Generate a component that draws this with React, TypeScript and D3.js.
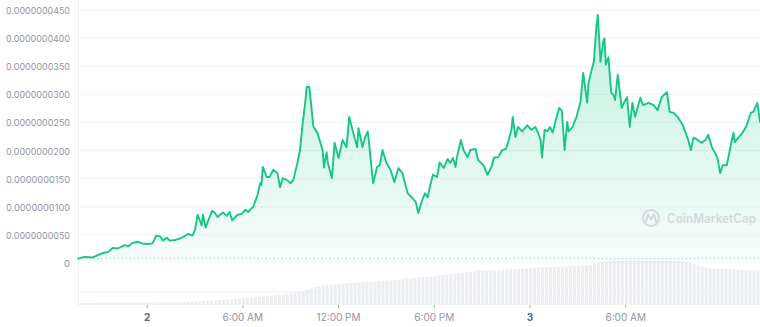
import React from "react";
import * as d3 from "d3";

// Time base: 5-minute steps from 1st 19:40 UTC
const START_UTC = Date.UTC(2023, 5, 1, 19, 40);
const STEP_MIN = 5;
const TOTAL_STEPS = 513;

// price sample positions (in 5-minute steps from start)
const PRICE_STEPS = [
  0, 5, 11, 15, 19, 23, 26, 30, 35, 38,
  41, 45, 48, 52, 56, 59, 62, 64, 67, 69,
  73, 78, 83, 86, 88, 90, 93, 94, 96, 98,
  101, 103, 105, 109, 112, 114, 116, 120, 123, 126,
  128, 132, 135, 137, 138, 139, 142, 144, 147, 150,
  152, 154, 157, 160, 162, 165, 167, 169, 171, 172,
  174, 176, 177, 180, 184, 185, 187, 188, 191, 193,
  196, 199, 202, 204, 207, 210, 211, 214, 216, 218,
  220, 222, 225, 227, 229, 232, 235, 238, 241, 244,
  246, 248, 251, 254, 256, 259, 261, 263, 265, 267,
  270, 272, 275, 278, 280, 282, 284, 285, 288, 290,
  293, 295, 299, 301, 305, 308, 311, 313, 316, 319,
  322, 324, 326, 327, 329, 331, 334, 338, 341, 344,
  346, 348, 349, 351, 353, 355, 357, 360, 362, 364,
  366, 368, 369, 372, 375, 378, 380, 383, 384, 386,
  388, 390, 391, 393, 395, 396, 397, 399, 401, 403,
  404, 406, 409, 411, 413, 415, 417, 419, 423, 425,
  429, 433, 436, 439, 443, 445, 448, 451, 455, 459,
  461, 463, 466, 469, 472, 474, 477, 479, 481, 483,
  485, 488, 490, 493, 494, 497, 500, 503, 506, 508,
  511, 513,
];

// price in units of 1e-9
const PRICE_NANO = [
  0.8, 1.1, 1.0, 1.4, 1.8, 2.0, 2.7, 2.6, 3.2, 3.0,
  3.6, 3.8, 3.5, 3.4, 3.5, 4.9, 4.7, 4.0, 4.5, 4.0,
  4.1, 4.5, 5.2, 4.9, 5.9, 8.6, 6.7, 8.6, 6.3, 7.6,
  9.3, 8.9, 8.2, 9.0, 8.4, 9.1, 7.6, 8.6, 8.7, 9.5,
  9.1, 10.1, 12.1, 14.2, 13.9, 17.1, 15.3, 15.3, 16.6, 16.0,
  13.5, 15.1, 14.8, 14.2, 14.8, 17.8, 20.1, 24.9, 28.7, 31.3,
  31.3, 26.7, 24.3, 23.2, 20.1, 17.0, 19.7, 17.8, 15.1, 21.4,
  18.7, 21.9, 20.6, 26.0, 23.2, 20.6, 24.0, 20.6, 22.4, 23.4,
  18.8, 14.2, 17.1, 17.4, 20.1, 17.8, 16.6, 14.4, 16.9, 16.0,
  14.2, 12.4, 11.7, 10.9, 8.9, 11.3, 12.4, 11.7, 13.9, 15.7,
  15.3, 17.9, 16.9, 18.5, 17.8, 18.7, 17.1, 18.8, 21.9, 20.1,
  18.8, 20.1, 20.3, 18.3, 17.4, 15.7, 17.1, 18.8, 18.8, 20.1,
  20.3, 21.9, 23.7, 26.0, 22.4, 24.2, 23.4, 24.5, 23.7, 24.2,
  23.2, 21.9, 18.8, 23.7, 23.4, 24.2, 23.2, 26.0, 27.6, 27.0,
  20.1, 25.1, 23.4, 24.2, 26.0, 28.7, 33.8, 28.5, 32.0, 34.0,
  35.8, 42.3, 44.1, 35.8, 39.3, 40.0, 35.3, 36.6, 30.4, 29.8,
  29.0, 33.5, 27.6, 28.7, 29.5, 24.2, 28.5, 26.0, 29.4, 28.1,
  28.5, 28.1, 27.2, 29.5, 30.4, 26.9, 26.7, 26.0, 24.5, 21.9,
  20.1, 22.3, 21.9, 21.4, 21.9, 22.8, 20.5, 19.7, 18.7, 16.0,
  17.4, 17.4, 19.7, 23.2, 21.5, 22.4, 23.2, 24.5, 26.7, 26.9,
  28.5, 25.1,
];

// volume bars, one per 15 minutes (relative units)
const VOLUME_STEP_MIN = 15;
const VOLUME = [
  2.0, 2.0, 2.0, 2.0, 2.1, 2.1, 2.1, 2.1, 2.1, 2.2,
  2.2, 2.2, 2.2, 2.2, 2.3, 2.3, 2.3, 2.3, 2.4, 2.5,
  2.6, 2.7, 2.8, 2.9, 3.0, 3.1, 3.2, 3.3, 3.3, 3.4,
  3.7, 4.0, 4.3, 4.5, 4.7, 5.0, 5.2, 5.5, 5.8, 6.1,
  6.4, 6.7, 7.0, 7.3, 7.7, 8.1, 8.5, 9.0, 9.4, 9.8,
  10.2, 10.6, 11.0, 11.4, 11.8, 12.5, 13.5, 15.0, 16.5, 17.8,
  18.5, 19.2, 19.8, 20.4, 20.8, 21.1, 21.4, 21.7, 22.0, 22.3,
  22.6, 22.8, 23.1, 23.4, 23.7, 24.0, 24.3, 24.5, 24.8, 25.1,
  25.5, 25.9, 26.3, 26.7, 27.1, 27.5, 27.9, 28.3, 28.7, 29.1,
  29.6, 30.1, 30.6, 31.1, 31.6, 32.0, 32.3, 32.6, 33.2, 33.8,
  34.2, 34.4, 34.6, 34.8, 34.9, 35.1, 35.2, 35.4, 35.5, 35.6,
  35.8, 36.1, 36.4, 36.8, 37.1, 37.4, 37.7, 37.9, 38.0, 38.1,
  38.3, 38.4, 38.6, 38.8, 38.9, 39.1, 39.2, 39.4, 40.2, 41.3,
  42.4, 43.0, 43.3, 43.6, 43.8, 44.0, 44.2, 44.3, 44.3, 44.3,
  44.3, 44.2, 44.2, 44.1, 44.1, 44.0, 44.0, 43.9, 43.9, 43.8,
  43.7, 43.6, 42.8, 41.8, 40.8, 39.7, 38.6, 37.6, 36.8, 36.5,
  36.3, 36.1, 35.9, 35.8, 35.6, 35.4, 35.2, 35.0, 34.8, 34.6,
  34.4,
];

const Y_TICKS = [0, 5, 10, 15, 20, 25, 30, 35, 40, 45];
// x-axis tick times (UTC)
const X_TICKS = [
  "2023-06-02T00:00:00Z",
  "2023-06-02T06:00:00Z",
  "2023-06-02T12:00:00Z",
  "2023-06-02T18:00:00Z",
  "2023-06-03T00:00:00Z",
  "2023-06-03T06:00:00Z",
];

const W = 760;
const H = 327;
const GREEN = "#16c784";

export default function App() {
  const start = new Date(START_UTC);
  const end = new Date(START_UTC + TOTAL_STEPS * STEP_MIN * 60000);
  const x = d3.scaleUtc().domain([start, end]).range([78, 760]);
  const y = d3.scaleLinear().domain([0, 45]).range([263.1, 10]);
  const yv = d3.scaleLinear().domain([0, 45]).range([305, 260]);

  const data = PRICE_STEPS.map((s, i) => ({
    t: new Date(START_UTC + s * STEP_MIN * 60000),
    v: PRICE_NANO[i],
  }));

  const line = d3
    .line<{ t: Date; v: number }>()
    .x((d) => x(d.t))
    .y((d) => y(d.v));
  const area = d3
    .area<{ t: Date; v: number }>()
    .x((d) => x(d.t))
    .y0(y(0))
    .y1((d) => y(d.v));

  const barW = x(new Date(START_UTC + VOLUME_STEP_MIN * 60000)) - x(start);
  const ticks = X_TICKS.map((s) => new Date(s));
  const fmtTime = d3.utcFormat("%-I:%M %p");
  const fmtDay = d3.utcFormat("%-d");

  const fmtY = (v: number) => (v === 0 ? "0" : (v * 1e-9).toFixed(10));
  const openY = y(PRICE_NANO[0]);

  return (
    <svg
      width={W}
      height={H}
      style={{ position: "absolute", left: 0, top: 0, display: "block" }}
      fontFamily="Inter, 'Noto Sans', sans-serif"
    >
      <defs>
        <linearGradient id="fillG" gradientUnits="userSpaceOnUse" x1="0" y1={y(45)} x2="0" y2={y(0)}>
          <stop offset="0" stopColor={GREEN} stopOpacity={0.26} />
          <stop offset="1" stopColor={GREEN} stopOpacity={0.04} />
        </linearGradient>
      </defs>
      <rect x={0} y={0} width={W} height={H} fill="#ffffff" />

      {/* grid */}
      {Y_TICKS.filter((t) => t > 0).map((t) => (
        <line key={t} x1={78} x2={760} y1={y(t)} y2={y(t)} stroke="#f1f2f5" strokeWidth={1} />
      ))}
      <line x1={78.5} x2={78.5} y1={0} y2={306} stroke="#f1f2f5" strokeWidth={1} />
      <line x1={78} x2={760} y1={292} y2={292} stroke="#eef0f3" strokeWidth={1} />

      {/* volume */}
      {VOLUME.map((v, i) => {
        const bx = x(new Date(START_UTC + i * VOLUME_STEP_MIN * 60000));
        return (
          <rect
            key={i}
            x={bx + 0.4}
            y={yv(v)}
            width={Math.max(0.5, barW - 0.9)}
            height={yv(0) - yv(v)}
            fill="#eceef1"
          />
        );
      })}

      {/* price */}
      <path d={area(data) || ""} fill="url(#fillG)" />
      <line x1={78} x2={760} y1={openY} y2={openY} stroke="#b8bcc4" strokeWidth={1} strokeDasharray="1 3" />
      <path d={line(data) || ""} fill="none" stroke={GREEN} strokeWidth={1.9} strokeLinejoin="round" strokeLinecap="round" />

      {/* y labels */}
      {Y_TICKS.map((t) => {
        const label = fmtY(t);
        return (
          <text
            key={t}
            x={70}
            y={y(t) + 4}
            textAnchor="end"
            fontSize={9.5}
            fill="#8f95a2"
            {...(label.length > 1 ? { textLength: 64, lengthAdjust: "spacingAndGlyphs" } : {})}
          >
            {label}
          </text>
        );
      })}

      {/* x ticks */}
      {ticks.map((d) => {
        const isDay = d.getUTCHours() === 0;
        const px = x(d);
        return (
          <g key={d.getTime()}>
            <line x1={px} x2={px} y1={305} y2={308} stroke="#a0a5b0" strokeWidth={1} />
            <text
              x={px}
              y={321}
              textAnchor="middle"
              fontSize={10}
              fontWeight={isDay ? 700 : 400}
              fill={isDay ? "#58667e" : "#8f95a2"}
            >
              {isDay ? fmtDay(d) : fmtTime(d)}
            </text>
          </g>
        );
      })}

      {/* watermark */}
      <g opacity={0.9}>
        <circle cx={651} cy={218} r={8} fill="none" stroke="#d3d6db" strokeWidth={2} />
        <path d="M646,221.5 L648,214.5 L651,219.5 L654,214.5 L656,221.5" fill="none" stroke="#d3d6db" strokeWidth={2} strokeLinejoin="round" strokeLinecap="round" />
        <text x={667} y={222.5} fontSize={12.5} fontWeight={600} fill="#d3d6db" textLength={89} lengthAdjust="spacingAndGlyphs">
          CoinMarketCap
        </text>
      </g>
    </svg>
  );
}
